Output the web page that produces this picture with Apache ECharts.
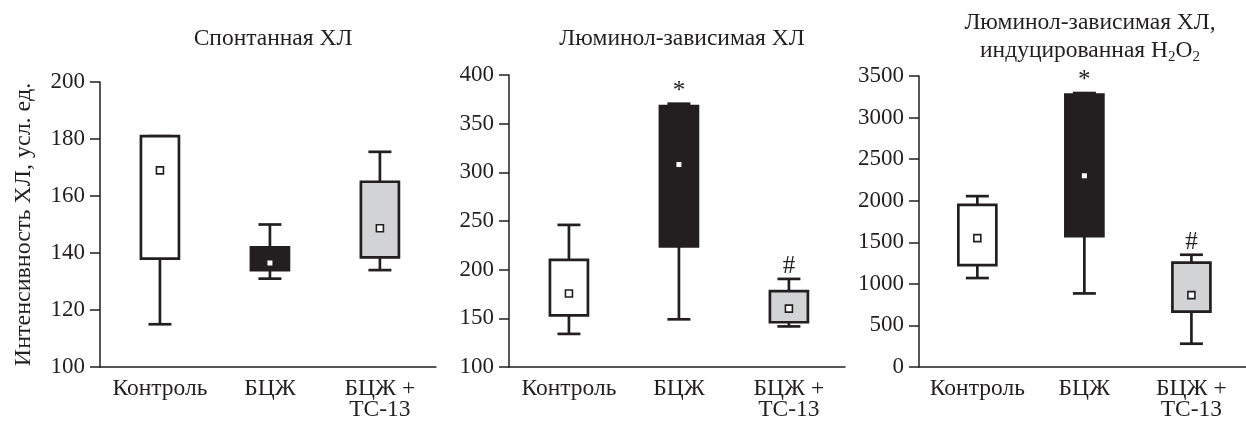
<!DOCTYPE html>
<html>
<head>
<meta charset="utf-8">
<script src="https://cdn.jsdelivr.net/npm/echarts@6/dist/echarts.min.js"></script>
<style>
html,body{margin:0;padding:0;background:#fff;}
#chart{width:1246px;height:424px;}
</style>
</head>
<body>
<div id="chart"></div>
<script>
// ---- Data ----
const categories = ['Контроль', 'БЦЖ', 'БЦЖ +\nТС-13'];
const panelTitles = ['Спонтанная ХЛ', 'Люминол-зависимая ХЛ', 'Люминол-зависимая ХЛ,\nиндуцированная H{sub|2}O{sub|2}'];
const yAxisName = 'Интенсивность ХЛ, усл. ед.';

// Panel 1: spontaneous CL
const spontLow  = [115, 131, 134];
const spontQ1   = [138, 134, 138.5];
const spontQ3   = [181, 142, 165];
const spontHigh = [181, 150, 175.5];
const spontMean = [169, 136.5, 148.7];
const spontMarks = ['', '', ''];

// Panel 2: luminol-dependent CL
const lumLow  = [134, 149, 141.7];
const lumQ1   = [153, 224, 146];
const lumQ3   = [210, 368, 178];
const lumHigh = [246, 370.5, 190.5];
const lumMean = [175.5, 308, 160];
const lumMarks = ['', '*', '#'];

// Panel 3: luminol-dependent CL induced by H2O2
const h2o2Low  = [1070, 885, 280];
const h2o2Q1   = [1225, 1575, 665];
const h2o2Q3   = [1950, 3275, 1255];
const h2o2High = [2055, 3295, 1350];
const h2o2Mean = [1550, 2300, 865];
const h2o2Marks = ['', '*', '#'];

// Y axis ranges / ticks
const yMin = [100, 100, 0];
const yMax = [200, 400, 3500];
const yStep = [20, 50, 500];

// ---- Styles ----
const INK = '#231f20';
const FONT = '"Liberation Serif", "DejaVu Serif", serif';
const FS = 23;
const FS_TEXT = 23.5;
const FS_MARK = 25;
const boxFill = ['#ffffff', '#231f20', '#d1d3d4'];

function rows(low, q1, q3, high, mean) {
  return categories.map((c, i) => [i, low[i], q1[i], q3[i], high[i], mean[i]]);
}

function makeRender(marks) {
  return function (params, api) {
    const i = api.value(0);
    const pLo = api.coord([i, api.value(1)]);
    const pQ1 = api.coord([i, api.value(2)]);
    const pQ3 = api.coord([i, api.value(3)]);
    const pHi = api.coord([i, api.value(4)]);
    const pMean = api.coord([i, api.value(5)]);
    const cx = pLo[0];
    const halfW = 19, capW = 11.5;
    const lineStyle = { stroke: INK, lineWidth: 2.7, fill: null };
    const children = [
      { type: 'line', shape: { x1: cx, y1: pLo[1], x2: cx, y2: pQ1[1] }, style: lineStyle },
      { type: 'line', shape: { x1: cx, y1: pQ3[1], x2: cx, y2: pHi[1] }, style: lineStyle },
      { type: 'line', shape: { x1: cx - capW, y1: pLo[1], x2: cx + capW, y2: pLo[1] }, style: lineStyle },
      { type: 'line', shape: { x1: cx - capW, y1: pHi[1], x2: cx + capW, y2: pHi[1] }, style: lineStyle },
      { type: 'rect', shape: { x: cx - halfW, y: pQ3[1], width: 2 * halfW, height: pQ1[1] - pQ3[1] },
        style: { fill: boxFill[i], stroke: INK, lineWidth: 2.7 } }
    ];
    if (i === 1) {
      children.push({ type: 'rect', shape: { x: cx - 2.5, y: pMean[1] - 2.5, width: 5, height: 5 },
        style: { fill: '#ffffff' } });
    } else {
      children.push({ type: 'rect', shape: { x: cx - 3.5, y: pMean[1] - 3.5, width: 7, height: 7 },
        style: { fill: '#ffffff', stroke: INK, lineWidth: 1.6 } });
    }
    if (marks[i]) {
      children.push({ type: 'text', x: cx, y: pHi[1],
        style: { text: marks[i], fill: INK, font: FS_MARK + 'px ' + FONT, align: 'center', verticalAlign: 'bottom' } });
    }
    return { type: 'group', children: children };
  };
}

const grids = [
  { left: 100, top: 82, width: 336, height: 285 },
  { left: 509, top: 75, width: 336, height: 292 },
  { left: 919, top: 76, width: 336, height: 291 }
];

const xAxes = grids.map((g, k) => ({
  gridIndex: k, type: 'value', min: -0.545, max: 2.51,
  axisLine: { show: true, onZero: false, lineStyle: { color: INK, width: 1.5 } },
  axisTick: { show: false },
  splitLine: { show: false },
  axisLabel: {
    customValues: [0, 1, 2],
    formatter: (v) => categories[Math.round(v)],
    color: INK, fontFamily: FONT, fontSize: FS_TEXT, lineHeight: 21, margin: 11, align: 'center'
  }
}));

const yAxes = grids.map((g, k) => ({
  gridIndex: k, type: 'value', min: yMin[k], max: yMax[k], interval: yStep[k],
  name: k === 0 ? yAxisName : '',
  nameLocation: 'middle', nameGap: 64, nameRotate: 90,
  nameTextStyle: { color: INK, fontFamily: FONT, fontSize: 24 },
  axisLine: { show: true, onZero: false, lineStyle: { color: INK, width: 1.5 } },
  axisTick: { show: true, inside: false, length: 10, lineStyle: { color: INK, width: 1.5 } },
  splitLine: { show: false },
  axisLabel: { color: INK, fontFamily: FONT, fontSize: FS, margin: 15, formatter: (v) => String(v) }
}));

const titleCenters = [268, 677, 1085];
const titleTops = [20, 20, 4];
const titles = panelTitles.map((t, k) => ({
  text: t,
  left: titleCenters[k], top: titleTops[k], textAlign: 'center',
  textStyle: {
    color: INK, fontFamily: FONT, fontSize: FS_TEXT, fontWeight: 'normal', lineHeight: 28,
    rich: { sub: { fontFamily: FONT, fontSize: 15, lineHeight: 14, verticalAlign: 'bottom', color: INK } }
  }
}));

const seriesData = [
  [rows(spontLow, spontQ1, spontQ3, spontHigh, spontMean), spontMarks],
  [rows(lumLow, lumQ1, lumQ3, lumHigh, lumMean), lumMarks],
  [rows(h2o2Low, h2o2Q1, h2o2Q3, h2o2High, h2o2Mean), h2o2Marks]
];

const chart = echarts.init(document.getElementById('chart'), null, { renderer: 'canvas' });
chart.setOption({
  animation: false,
  backgroundColor: '#ffffff',
  title: titles,
  grid: grids,
  xAxis: xAxes,
  yAxis: yAxes,
  series: seriesData.map((d, k) => ({
    type: 'custom', xAxisIndex: k, yAxisIndex: k, clip: false,
    renderItem: makeRender(d[1]),
    data: d[0]
  }))
});
</script>
</body>
</html>
